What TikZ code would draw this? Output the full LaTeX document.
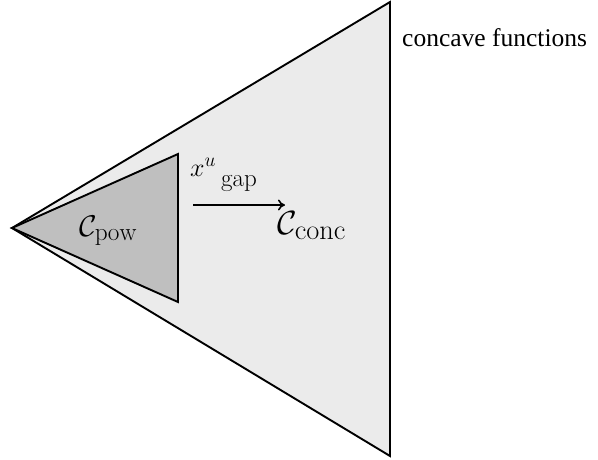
\RequirePackage{fix-cm}
\documentclass[tikz,border=0pt]{standalone}
\usepackage{fontspec}
\newfontfamily\timesfont{Liberation Serif}
\DeclareMathSizes{26}{26}{19.5}{14}
\DeclareMathSizes{30}{30}{25.3}{18}
\DeclareMathSizes{33.5}{33.5}{28.4}{20}
\usetikzlibrary{arrows.meta}
\begin{document}
\begin{tikzpicture}[x=1pt,y=-1pt,
  edge/.style={line width=1.9pt,line join=miter},
  bigfill/.style={fill=black!8},
  smallfill/.style={fill=black!25},
  lbl/.style={inner sep=0pt,anchor=base west}]
\useasboundingbox (0,0) rectangle (598,459);
\coordinate (apex) at (12,228);
\coordinate (bt) at (390,2);
\coordinate (bb) at (390,456);
\coordinate (st) at (178,154);
\coordinate (sb) at (178,302);
\draw[edge,bigfill] (apex) -- (bt) -- (bb) -- cycle;
\draw[edge,smallfill] (apex) -- (st) -- (sb) -- cycle;
\node[lbl] (conc) at (402,46) {\timesfont\fontsize{25.5}{30}\selectfont concave functions};
\node[lbl] (cpow) at (79,236) {\fontsize{30}{34}\selectfont $\mathcal{C}_{\mathrm{pow}}$};
\node[lbl] (cconc) at (277,234) {\fontsize{33.5}{38}\selectfont $\mathcal{C}_{\mathrm{conc}}$};
\node[lbl] (xu) at (190,176) {\fontsize{26}{30}\selectfont $x^u$};
\node[lbl] (gap) at (221,186) {\fontsize{25}{30}\selectfont gap};
\coordinate (a0) at (193,205);
\coordinate (a1) at (285,205);
\draw[line width=1.6pt,-{To[length=7pt,width=11pt]}] (a0) -- (a1);
\end{tikzpicture}
\end{document}
